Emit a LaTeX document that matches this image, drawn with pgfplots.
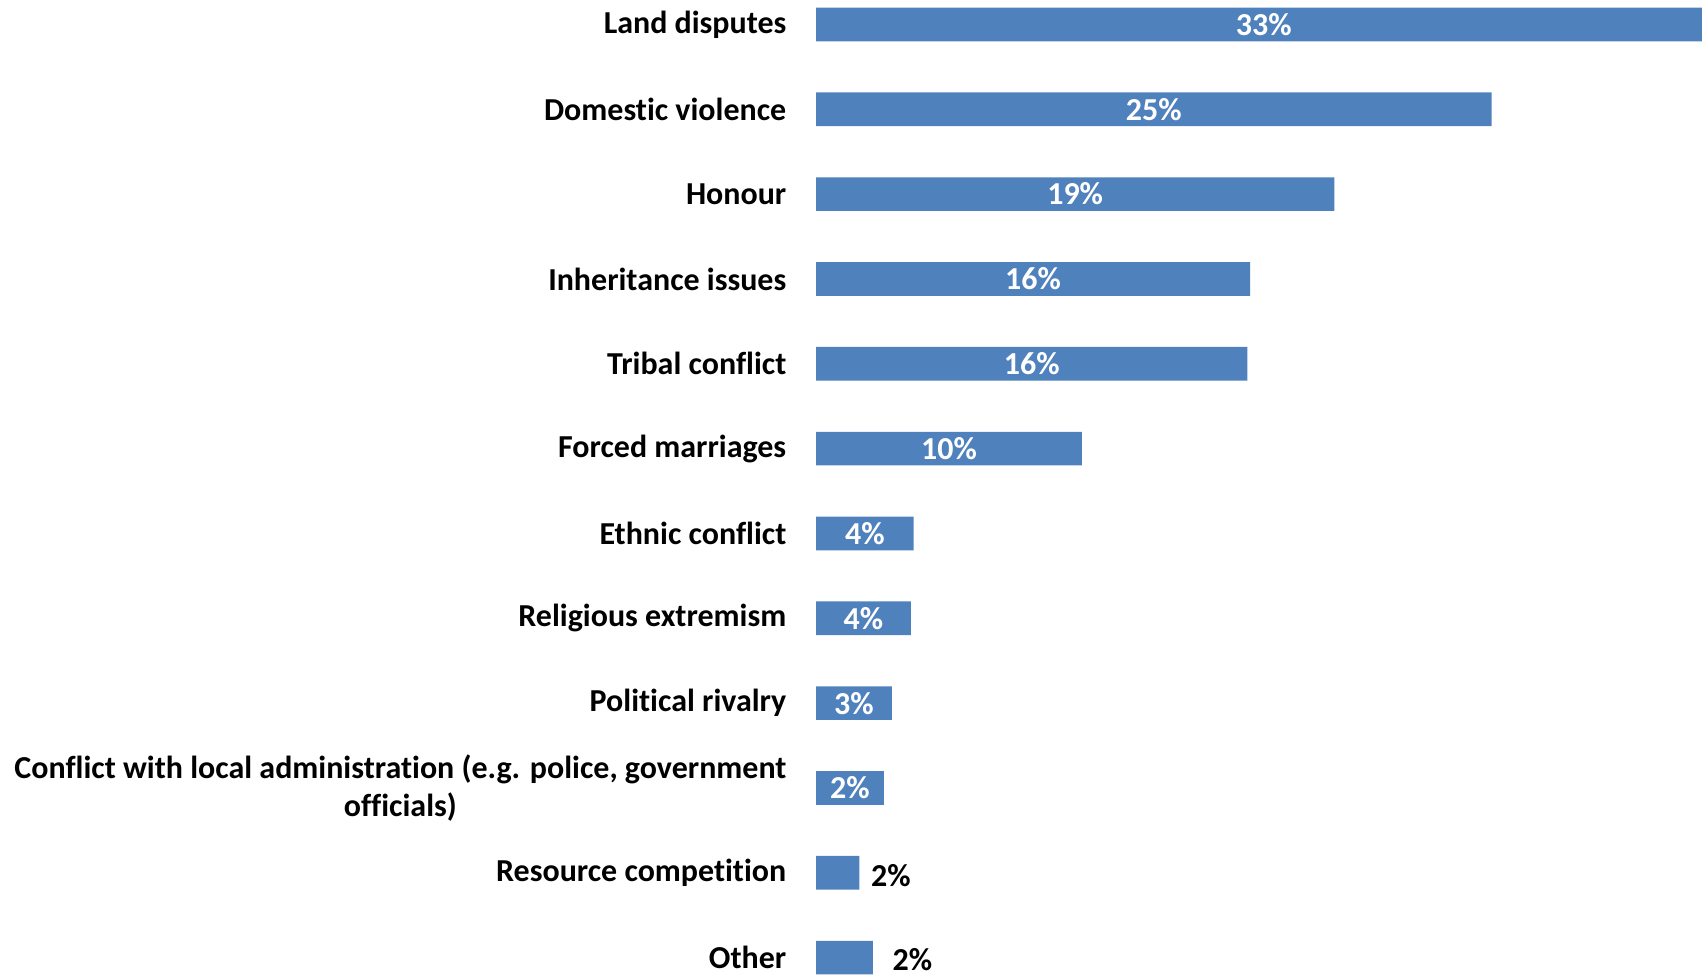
\documentclass[border=0pt]{standalone}
\usepackage{pgfplots}
\pgfplotsset{compat=1.18}
\usepackage{pgfplotstable}
\usepackage{fontspec}
\setmainfont{Carlito}[Ligatures=NoCommon]
\definecolor{barblue}{HTML}{4F81BD}
\pgfplotstableread{
y val lab
11 33.0 33
10 24.9 25
9 19.1 19
8 16.0 16
7 15.9 16
6 9.8 10
5 3.6 4
4 3.5 4
3 2.8 3
2 2.5 2
1 1.6 2
0 2.1 2
}\data
\newcommand{\lfont}{\fontsize{9.1}{10.9}\selectfont\bfseries}
\begin{document}
\begin{tikzpicture}[font=\lfont]
\begin{axis}[
  scale only axis, width=88.6mm, height=97.5mm,
  xmin=0, xmax=32.65, ymin=-0.205, ymax=11.288,
  axis line style={draw=none},
  major tick length=0pt,
  xtick=\empty,
  ytick={0,...,11},
  yticklabels={Other, Resource competition, {Conflict with local administration (e.g. police, government\\officials)}, Political rivalry, Religious extremism, Ethnic conflict, Forced marriages, Tribal conflict, Inheritance issues, Honour, Domestic violence, Land disputes},
  yticklabel style={align=center, inner sep=0pt, xshift=-2.9mm, font=\lfont},
]
\addplot[xbar, fill=barblue, draw=none, bar width=0.397] table[x=val, y=y]{\data};
\addplot[only marks, mark=none, nodes near coords={\pgfplotspointmeta\%}, point meta=explicit symbolic,
  restrict y to domain=1.5:11.5,
  nodes near coords style={white, anchor=center, inner sep=0pt, font=\lfont}]
  table[x expr=\thisrow{val}/2, y=y, meta=lab]{\data};
\addplot[only marks, mark=none, nodes near coords={\pgfplotspointmeta\%}, point meta=explicit symbolic,
  restrict y to domain=0.5:1.5,
  nodes near coords style={black, anchor=west, inner sep=0pt, xshift=1.1mm, yshift=-0.3mm, font=\lfont}]
  table[x=val, y=y, meta=lab]{\data};
\addplot[only marks, mark=none, nodes near coords={\pgfplotspointmeta\%}, point meta=explicit symbolic,
  restrict y to domain=-0.5:0.5,
  nodes near coords style={black, anchor=west, inner sep=0pt, xshift=1.9mm, yshift=-0.15mm, font=\lfont}]
  table[x=val, y=y, meta=lab]{\data};
\end{axis}
\pgfresetboundingbox
\path (current axis.south west) ++(-81.6mm,0) rectangle (current axis.north east);
\end{tikzpicture}
\end{document}
